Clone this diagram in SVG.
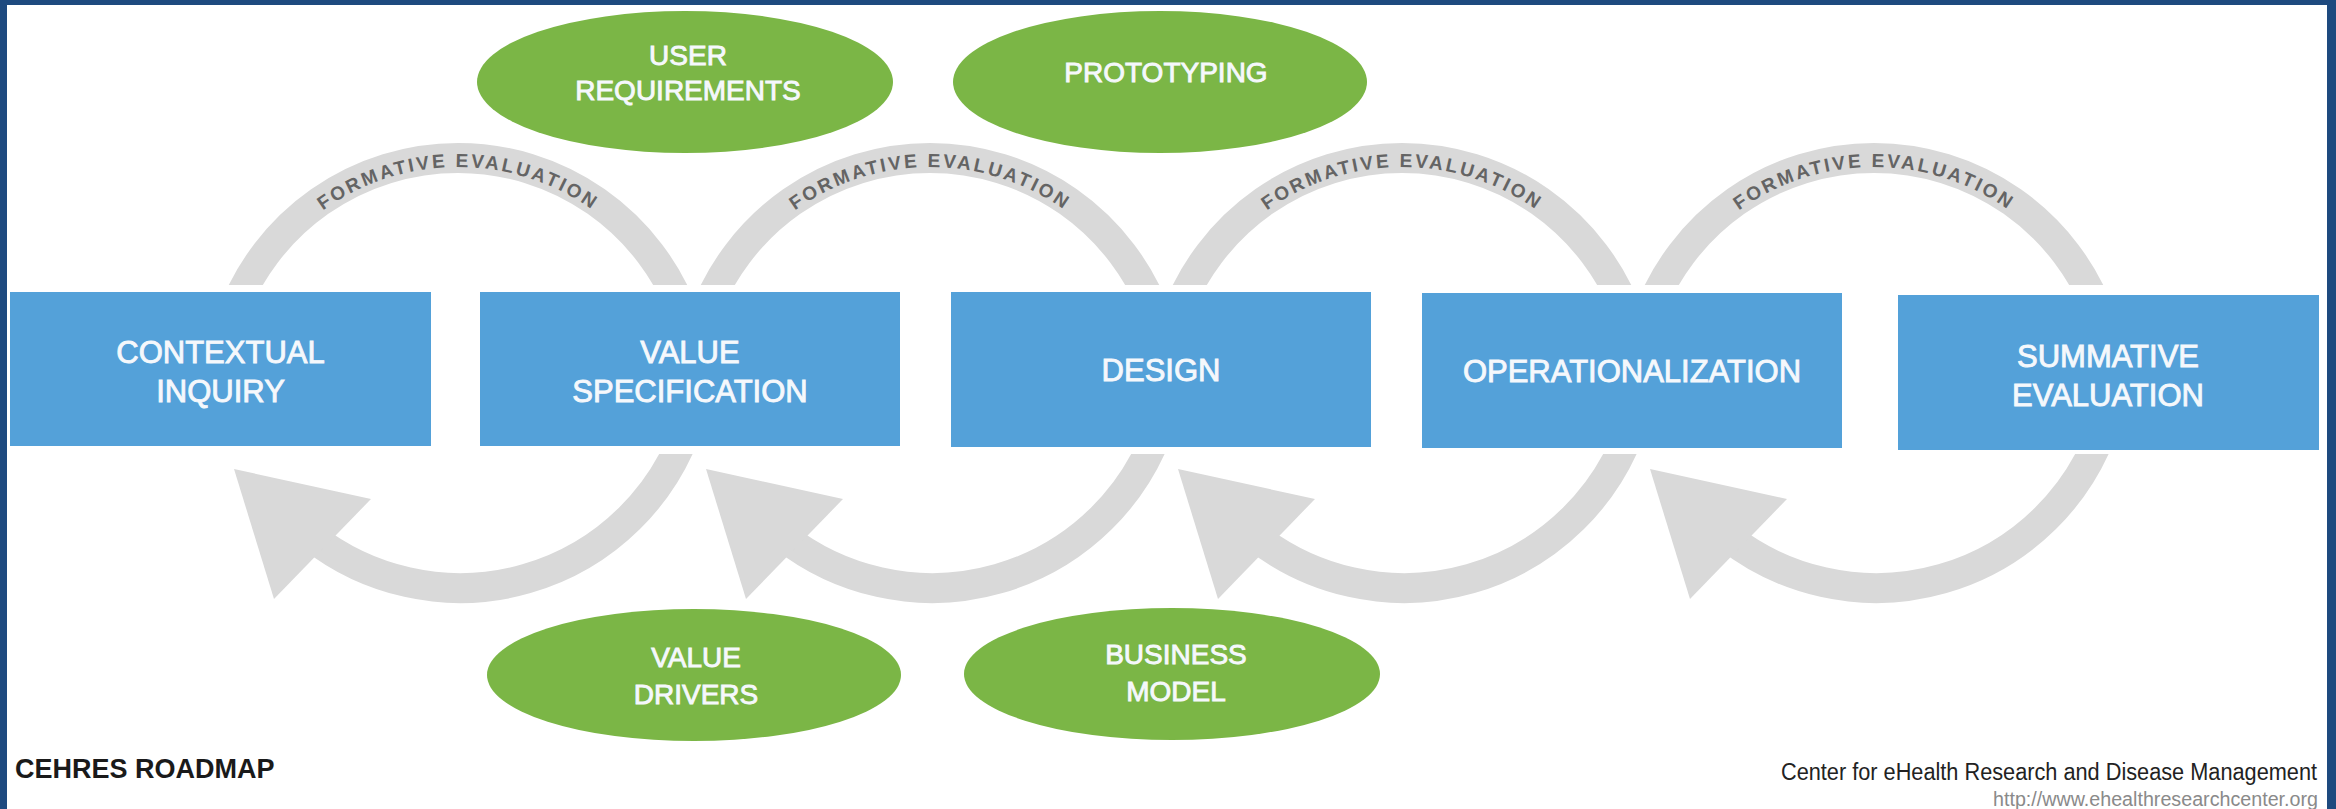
<svg xmlns="http://www.w3.org/2000/svg" width="2336" height="809" viewBox="0 0 2336 809">
<style>
.box{fill:#54a1d9}
.oval{fill:#7bb646}
.band{fill:none;stroke:#d9d9d9;stroke-width:30}
.head{fill:#d9d9d9}
.lbl{font-family:"Liberation Sans",Arial,sans-serif;font-weight:normal;fill:#f5f8fc;stroke:#f5f8fc;stroke-width:0.9px;text-anchor:middle}
.bl{font-size:31px}
.ol{font-size:28px}
.fe{font-family:"Liberation Sans",Arial,sans-serif;font-weight:bold;font-size:19px;fill:#646464;letter-spacing:2.6px}
.foot{font-family:"Liberation Sans",Arial,sans-serif}
</style>
<defs>
<clipPath id="topClip"><rect x="0" y="0" width="2336" height="285"/></clipPath>
<clipPath id="botClip"><rect x="0" y="454" width="2336" height="355"/></clipPath>
<path id="fe1" d="M 226 399 A 232 232 0 0 1 690 399"/>
<path id="fe2" d="M 698 399 A 232 232 0 0 1 1162 399"/>
<path id="fe3" d="M 1170 399 A 232 232 0 0 1 1634 399"/>
<path id="fe4" d="M 1642 399 A 232 232 0 0 1 2106 399"/>
</defs>
<rect x="0" y="0" width="2336" height="809" fill="#ffffff"/>
<g id="frame" fill="#1e4a7f">
<rect x="0" y="0" width="2336" height="5"/>
<rect x="0" y="0" width="7" height="809"/>
<rect x="2327" y="0" width="9" height="809"/>
</g>
<g id="connectors">
<g clip-path="url(#topClip)">
<path class="band" d="M 231.5 316.6 A 241 241 0 0 1 684.5 316.6"/>
<path class="band" d="M 703.5 316.6 A 241 241 0 0 1 1156.5 316.6"/>
<path class="band" d="M 1175.5 316.6 A 241 241 0 0 1 1628.5 316.6"/>
<path class="band" d="M 1647.5 316.6 A 241 241 0 0 1 2100.5 316.6"/>
</g>
<text class="fe"><textPath href="#fe1" startOffset="50%" text-anchor="middle">FORMATIVE EVALUATION</textPath></text>
<text class="fe"><textPath href="#fe2" startOffset="50%" text-anchor="middle">FORMATIVE EVALUATION</textPath></text>
<text class="fe"><textPath href="#fe3" startOffset="50%" text-anchor="middle">FORMATIVE EVALUATION</textPath></text>
<text class="fe"><textPath href="#fe4" startOffset="50%" text-anchor="middle">FORMATIVE EVALUATION</textPath></text>
<g clip-path="url(#botClip)">
<path class="band" d="M 686.5 429.4 A 241 241 0 0 1 311.6 536.9"/>
<path class="band" d="M 1158.5 429.4 A 241 241 0 0 1 783.6 536.9"/>
<path class="band" d="M 1630.5 429.4 A 241 241 0 0 1 1255.6 536.9"/>
<path class="band" d="M 2102.5 429.4 A 241 241 0 0 1 1727.6 536.9"/>
</g>
<polygon class="head" points="234,469 371,499 274,599"/>
<polygon class="head" points="706,469 843,499 746,599"/>
<polygon class="head" points="1178,469 1315,499 1218,599"/>
<polygon class="head" points="1650,469 1787,499 1690,599"/>
</g>
<g id="contextual-inquiry">
<rect class="box" x="10" y="292" width="421" height="154"/>
<text class="lbl bl" x="220.5" y="363">CONTEXTUAL</text>
<text class="lbl bl" x="220.5" y="402">INQUIRY</text>
</g>
<g id="value-specification">
<rect class="box" x="480" y="292" width="420" height="154"/>
<text class="lbl bl" x="690" y="363">VALUE</text>
<text class="lbl bl" x="690" y="402">SPECIFICATION</text>
</g>
<g id="design">
<rect class="box" x="951" y="292" width="420" height="155"/>
<text class="lbl bl" x="1161" y="381">DESIGN</text>
</g>
<g id="operationalization">
<rect class="box" x="1422" y="293" width="420" height="155"/>
<text class="lbl bl" x="1632" y="382">OPERATIONALIZATION</text>
</g>
<g id="summative-evaluation">
<rect class="box" x="1898" y="295" width="421" height="155"/>
<text class="lbl bl" x="2108" y="367">SUMMATIVE</text>
<text class="lbl bl" x="2108" y="406">EVALUATION</text>
</g>
<g id="user-requirements">
<ellipse class="oval" cx="685" cy="82" rx="208" ry="71"/>
<text class="lbl ol" x="688" y="65">USER</text>
<text class="lbl ol" x="688" y="100">REQUIREMENTS</text>
</g>
<g id="prototyping">
<ellipse class="oval" cx="1160" cy="82" rx="207" ry="71"/>
<text class="lbl ol" x="1166" y="82">PROTOTYPING</text>
</g>
<g id="value-drivers">
<ellipse class="oval" cx="694" cy="675" rx="207" ry="66"/>
<text class="lbl ol" x="696" y="667">VALUE</text>
<text class="lbl ol" x="696" y="704">DRIVERS</text>
</g>
<g id="business-model">
<ellipse class="oval" cx="1172" cy="674" rx="208" ry="66"/>
<text class="lbl ol" x="1176" y="664">BUSINESS</text>
<text class="lbl ol" x="1176" y="701">MODEL</text>
</g>
<g id="footer">
<text class="foot" x="15" y="778" font-size="27" font-weight="bold" fill="#1a1a1a">CEHRES ROADMAP</text>
<text class="foot" x="2317" y="780" font-size="23" fill="#222222" text-anchor="end" textLength="536" lengthAdjust="spacingAndGlyphs">Center for eHealth Research and Disease Management</text>
<text class="foot" x="2318" y="806" font-size="20" fill="#8a8a8a" text-anchor="end" textLength="325" lengthAdjust="spacingAndGlyphs">http://www.ehealthresearchcenter.org</text>
</g>
</svg>
